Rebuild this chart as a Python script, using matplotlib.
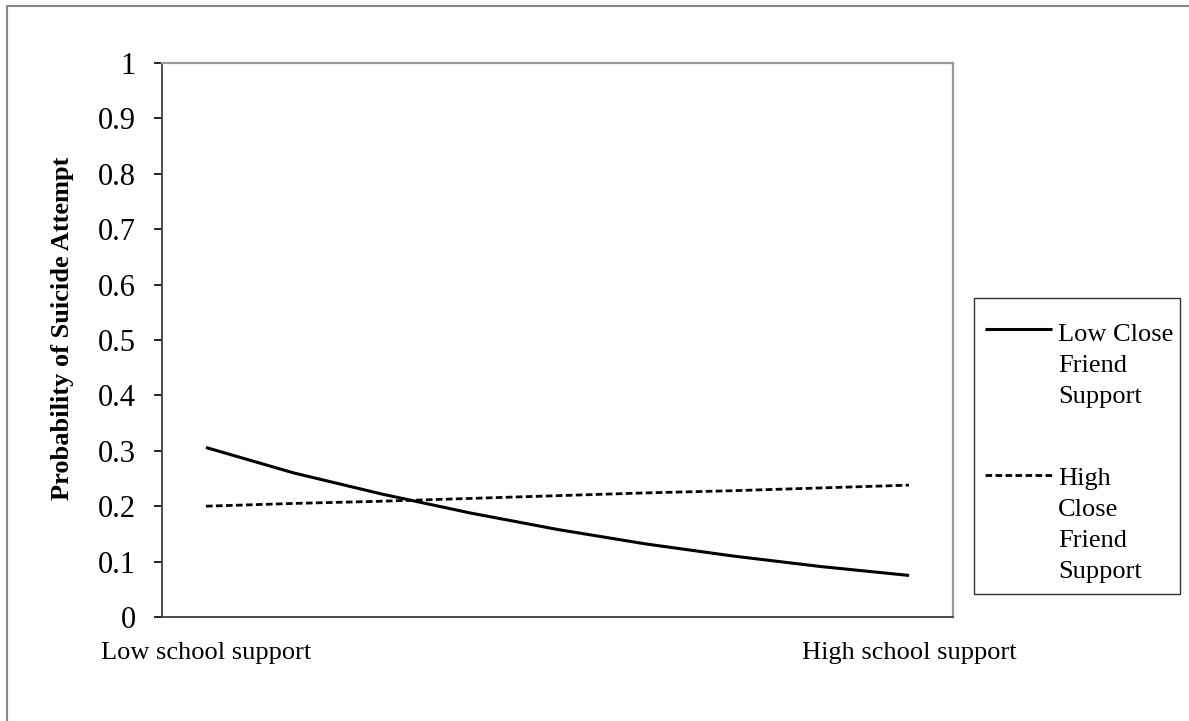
import matplotlib
matplotlib.use("Agg")
import matplotlib.pyplot as plt
from matplotlib.lines import Line2D
from matplotlib.patches import Rectangle

plt.rcParams.update({
    "font.family": ["Liberation Serif", "DejaVu Serif"],
})

# ── data ──────────────────────────────────────────────────────────────────────
x_labels = ["Low school support", "", "", "", "", "", "", "", "High school support"]
low_friend = [0.306, 0.260, 0.222, 0.188, 0.158, 0.132, 0.110, 0.091, 0.075]
high_friend = [0.200, 0.205, 0.209, 0.214, 0.219, 0.224, 0.228, 0.233, 0.238]
y_ticks = [0, 0.1, 0.2, 0.3, 0.4, 0.5, 0.6, 0.7, 0.8, 0.9, 1]
y_tick_labels = ["0", "0.1", "0.2", "0.3", "0.4", "0.5", "0.6", "0.7", "0.8", "0.9", "1"]
series_names = [["Low Close", "Friend", "Support"],
                ["High", "Close", "Friend", "Support"]]

W, H = 1189, 721


def fx(px):
    return px / W


def fy(py):
    return 1 - py / H


fig = plt.figure(figsize=(W / 100, H / 100), dpi=100)
ax = fig.add_axes([fx(162), fy(617), fx(953) - fx(162), fy(63) - fy(617)])

xs = list(range(len(x_labels)))
solid_style = dict(color="black", lw=2.2, solid_capstyle="butt")
dash_style = dict(color="black", lw=2.0, ls=(0, (2.4, 1.2)))
ax.plot(xs, low_friend, **solid_style)
ax.plot(xs, high_friend, **dash_style)

ax.set_xlim(-0.5, len(x_labels) - 0.5)
ax.set_ylim(0, 1)
ax.set_yticks(y_ticks)
ax.set_yticklabels(y_tick_labels, fontsize=22)
ax.set_xticks(xs)
ax.set_xticklabels(x_labels, fontsize=19)
ax.tick_params(axis="y", direction="out", length=6, width=1.2, pad=13, colors="black")
ax.tick_params(axis="x", length=0, pad=18)

for s in ("left", "bottom"):
    ax.spines[s].set_color("#404040")
    ax.spines[s].set_linewidth(1.3)
for s in ("top", "right"):
    ax.spines[s].set_color("#999999")
    ax.spines[s].set_linewidth(1.6)

fig.text(fx(63), fy(328), "Probability of Suicide Attempt", rotation=90,
         ha="center", va="center", fontsize=19, fontweight="bold")

# ── legend drawn by hand (handle sits on first text line) ─────────────────────
fig.add_artist(Rectangle((fx(974), fy(594)), fx(1180) - fx(974), fy(298) - fy(594),
                         fill=False, ec="#333333", lw=1.0, transform=fig.transFigure))
handle_y = [329, 475]
first_base = [341, 485]
styles = [solid_style, dash_style]
for names, hy, base, st in zip(series_names, handle_y, first_base, styles):
    fig.add_artist(Line2D([fx(985), fx(1052)], [fy(hy), fy(hy)],
                          transform=fig.transFigure, **st))
    for i, name in enumerate(names):
        fig.text(fx(1058), fy(base + i * 31), name, fontsize=19,
                 ha="left", va="baseline")

# outer chart border
fig.add_artist(Rectangle((fx(7), -0.02), 1.1, fy(6) + 0.02, fill=False,
                         ec="#888888", lw=1.5, transform=fig.transFigure))

fig.savefig("out.png", dpi=100)
